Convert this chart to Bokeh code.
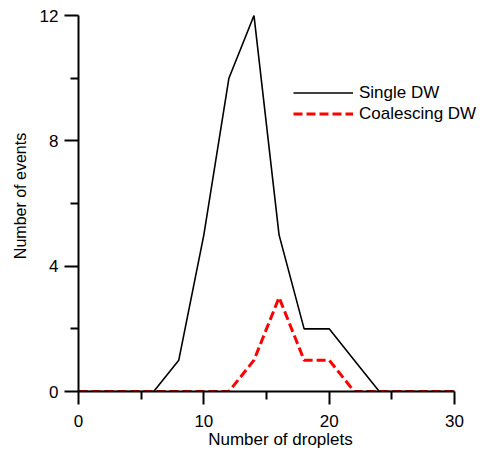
from bokeh.plotting import figure
from bokeh.models import Range1d, FixedTicker, Legend, LegendItem
from bokeh.embed import file_html
from bokeh.resources import INLINE

# data
droplets = [0, 2, 4, 6, 8, 10, 12, 14, 16, 18, 20, 22, 24, 26, 28, 30]
single_dw = [0, 0, 0, 0, 1, 5, 10, 12, 5, 2, 2, 1, 0, 0, 0, 0]
coalescing_dw = [0, 0, 0, 0, 0, 0, 0, 1, 3, 1, 1, 0, 0, 0, 0, 0]
x_major = [0, 10, 20, 30]
x_minor = [5, 15, 25]
y_major = [0, 4, 8, 12]
y_minor = [2, 6, 10]

FONT = "Liberation Sans"

p = figure(width=482, height=451, output_backend="svg", toolbar_location=None,
           x_range=Range1d(0, 32.23), y_range=Range1d(0, 12.48),
           min_border_left=78, min_border_right=0, min_border_top=0, min_border_bottom=60)
p.outline_line_color = None
p.grid.visible = False
p.background_fill_color = "white"
p.border_fill_color = "white"

for ax in (p.xaxis[0], p.yaxis[0]):
    ax.axis_line_width = 2
    ax.axis_line_color = "black"
    ax.major_tick_line_width = 2
    ax.minor_tick_line_width = 2
    ax.major_tick_line_color = "black"
    ax.minor_tick_line_color = "black"
    ax.major_tick_in = 0
    ax.major_tick_out = 14
    ax.minor_tick_in = 0
    ax.minor_tick_out = 8
    ax.major_label_text_font = FONT
    ax.major_label_text_font_size = "17px"
    ax.major_label_text_color = "black"
    ax.major_label_standoff = 6
    ax.axis_label_text_font = FONT
    ax.axis_label_text_font_style = "normal"
    ax.axis_label_text_color = "black"

p.xaxis[0].ticker = FixedTicker(ticks=x_major, minor_ticks=x_minor)
p.yaxis[0].ticker = FixedTicker(ticks=y_major, minor_ticks=y_minor)
p.xaxis[0].bounds = (0, 30)
p.yaxis[0].bounds = (0, 12)
p.xaxis[0].major_tick_out = 13
p.xaxis[0].major_label_standoff = 10
p.xaxis[0].axis_label = "Number of droplets"
p.xaxis[0].axis_label_text_font_size = "17px"
p.xaxis[0].axis_label_standoff = 0
p.yaxis[0].axis_label = "Number of events"
p.yaxis[0].axis_label_text_font_size = "16px"
p.yaxis[0].axis_label_standoff = 8

r1 = p.line(droplets, single_dw, line_color="black", line_width=1.6)
r2 = p.line(droplets, coalescing_dw, line_color="#ff0000", line_width=3, line_dash="9 4")

legend = Legend(items=[LegendItem(label="Single DW", renderers=[r1]),
                       LegendItem(label="Coalescing DW", renderers=[r2])],
                location=(215, 267), orientation="vertical",
                glyph_width=60, glyph_height=21, label_height=21, spacing=0,
                padding=0, margin=0, label_standoff=6,
                label_text_font=FONT, label_text_font_size="17px",
                label_text_color="black",
                border_line_color=None, background_fill_alpha=0)
p.add_layout(legend)

open("out.html", "w").write(file_html(p, INLINE))
